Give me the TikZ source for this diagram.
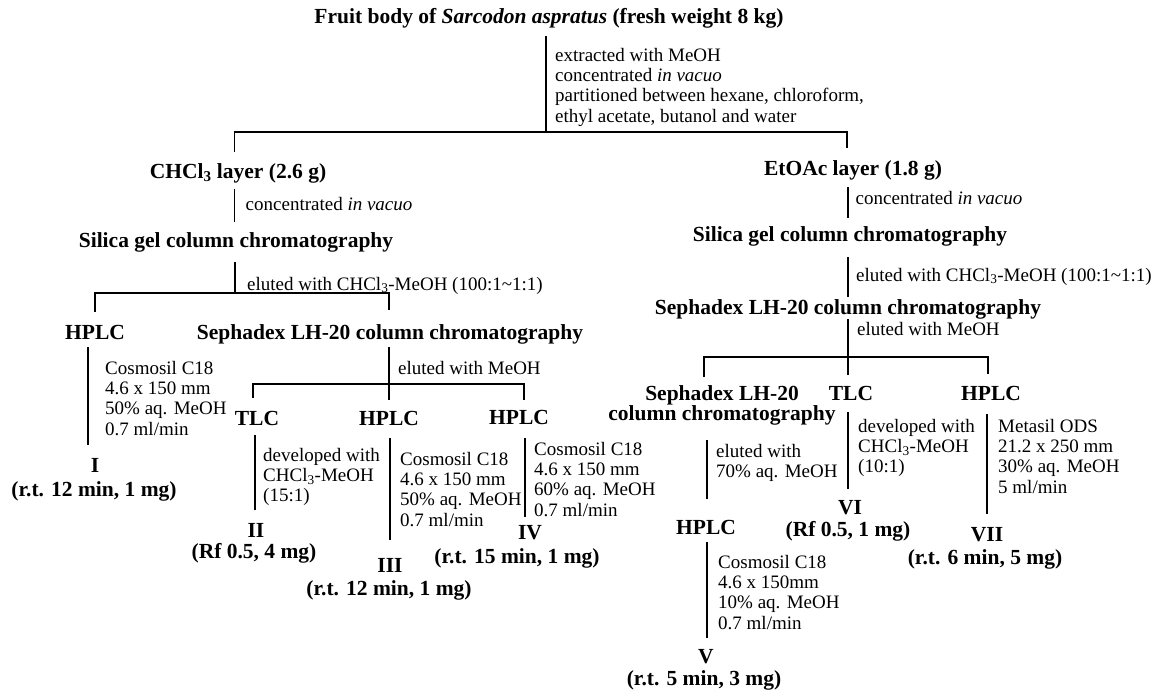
\documentclass[tikz,border=0pt]{standalone}
\usepackage{fontspec}
\setmainfont{Liberation Serif}
\newcommand\mylines[1]{\begin{tabular}[t]{@{}l@{}}#1\end{tabular}}
\newcommand\mycenter[1]{\begin{tabular}[t]{@{}c@{}}#1\end{tabular}}
\begin{document}
\begin{tikzpicture}[x=1pt,y=-1pt,
  hd/.style={font=\fontsize{21.5}{20}\selectfont\bfseries, inner sep=0pt, anchor=base},
  nt/.style={font=\fontsize{19}{20.4}\selectfont, inner sep=0pt, anchor=base west},
  ln/.style={line width=1.7pt}]
\useasboundingbox[fill=white] (0,0) rectangle (1156,697);

% ---------- headings ----------
\node[hd] (title) at (549,23) {Fruit body of \textit{Sarcodon aspratus} (fresh weight 8 kg)};
\node[hd] (chl) at (238,178) {CHCl\textsubscript{3} layer (2.6 g)};
\node[hd] (eto) at (853,175) {EtOAc layer (1.8 g)};
\node[hd] (silL) at (236,247) {Silica gel column chromatography};
\node[hd] (silR) at (850,241) {Silica gel column chromatography};
\node[hd] (hplcA) at (95,339) {HPLC};
\node[hd] (sephL) at (390,339) {Sephadex LH-20 column chromatography};
\node[hd] (tlcA) at (257,425) {TLC};
\node[hd] (hplcB) at (389,425) {HPLC};
\node[hd] (hplcC) at (519,424) {HPLC};
\node[hd] (sephR) at (848,314) {Sephadex LH-20 column chromatography};
\node[hd] (sephS) at (722,400) {\mycenter{Sephadex LH-20\\column chromatography}};
\node[hd] (tlcR) at (851,400) {TLC};
\node[hd] (hplcR) at (991,400) {HPLC};
\node[hd] (hplcD) at (706,534) {HPLC};

% ---------- compounds ----------
\node[hd] (c1) at (95,472) {I};
\node[hd] (c1i) at (94,496) {(r.t. 12 min, 1 mg)};
\node[hd] (c2) at (256,537) {II};
\node[hd] (c2i) at (254,558) {(Rf 0.5, 4 mg)};
\node[hd] (c3) at (390,572) {III};
\node[hd] (c3i) at (389,595) {(r.t. 12 min, 1 mg)};
\node[hd] (c4) at (530,539) {IV};
\node[hd] (c4i) at (517,563) {(r.t. 15 min, 1 mg)};
\node[hd] (c5) at (706,663) {V};
\node[hd] (c5i) at (704,685) {(r.t. 5 min, 3 mg)};
\node[hd] (c6) at (850,514) {VI};
\node[hd] (c6i) at (848,536) {(Rf 0.5, 1 mg)};
\node[hd] (c7) at (987,541) {VII};
\node[hd] (c7i) at (985,564) {(r.t. 6 min, 5 mg)};

% ---------- conditions ----------
\node[nt] (n0) at (555,61) {\mylines{extracted with MeOH\\concentrated \textit{in vacuo}\\partitioned between hexane, chloroform,\\ethyl acetate, butanol and water}};
\node[nt] (n1) at (245.5,210) {concentrated \textit{in vacuo}};
\node[nt] (n2) at (855.5,204) {concentrated \textit{in vacuo}};
\node[nt] (n3) at (247,290) {eluted with CHCl\textsubscript{3}-MeOH (100:1\textasciitilde1:1)};
\node[nt] (n4) at (856,281) {eluted with CHCl\textsubscript{3}-MeOH (100:1\textasciitilde1:1)};
\node[nt] (n5) at (398,374) {eluted with MeOH};
\node[nt] (n6) at (857,335) {eluted with MeOH};
\node[nt] (n7) at (105,374) {\mylines{Cosmosil C18\\4.6 x 150 mm\\50\% aq. MeOH\\0.7 ml/min}};
\node[nt] (n8) at (263,461) {\mylines{developed with\\CHCl\textsubscript{3}-MeOH\\(15:1)}};
\node[nt] (n9) at (400,465) {\mylines{Cosmosil C18\\4.6 x 150 mm\\50\% aq. MeOH\\0.7 ml/min}};
\node[nt] (n10) at (534,455) {\mylines{Cosmosil C18\\4.6 x 150 mm\\60\% aq. MeOH\\0.7 ml/min}};
\node[nt] (n11) at (716,457) {\mylines{eluted with\\70\% aq. MeOH}};
\node[nt] (n12) at (858,432) {\mylines{developed with\\CHCl\textsubscript{3}-MeOH\\(10:1)}};
\node[nt] (n13) at (998,432) {\mylines{Metasil ODS\\21.2 x 250 mm\\30\% aq. MeOH\\5 ml/min}};
\node[nt] (n14) at (718,568) {\mylines{Cosmosil C18\\4.6 x 150mm\\10\% aq. MeOH\\0.7 ml/min}};

% ---------- junction coordinates ----------
\coordinate (t0) at (546,36);   \coordinate (j0) at (546,132);
\coordinate (j0l) at (234.5,132); \coordinate (d0l) at (234.5,152);
\coordinate (j0r) at (847,132);   \coordinate (d0r) at (847,148);
\coordinate (t1) at (234.5,189); \coordinate (e1) at (234.5,222);
\coordinate (t2) at (848,187);   \coordinate (e2) at (848,218);
\coordinate (t3) at (235,262);   \coordinate (j3) at (235,293);
\coordinate (j3l) at (95,293);   \coordinate (d3l) at (95,312);
\coordinate (j3r) at (389,293);  \coordinate (d3r) at (389,310);
\coordinate (t4) at (88,347);    \coordinate (e4) at (88,445);
\coordinate (t5) at (389,347);   \coordinate (j5) at (389,384); \coordinate (d5m) at (389,400);
\coordinate (j5l) at (253,384);  \coordinate (d5l) at (253,398);
\coordinate (j5r) at (524,384);  \coordinate (d5r) at (524,400);
\coordinate (t6) at (255,435);   \coordinate (e6) at (255,510);
\coordinate (t7) at (390,438);   \coordinate (e7) at (390,540);
\coordinate (t8) at (525,438);   \coordinate (e8) at (525,517);
\coordinate (t9) at (848,257);   \coordinate (e9) at (848,297);
\coordinate (t10) at (848,319);  \coordinate (j10) at (848,357); \coordinate (d10m) at (848,375);
\coordinate (j10l) at (704,357); \coordinate (d10l) at (704,377);
\coordinate (j10r) at (988,357); \coordinate (d10r) at (988,374);
\coordinate (t11) at (848,412);  \coordinate (e11) at (848,489);
\coordinate (t12) at (987,414);  \coordinate (e12) at (987,514);
\coordinate (t13) at (707,440);  \coordinate (e13) at (707,499);
\coordinate (t14) at (707,542);  \coordinate (e14) at (707,638);

% ---------- connectors ----------
\draw[ln] (t0) -- (j0);
\draw[ln] (d0l) -- (j0l) -- (j0r) -- (d0r);
\draw[ln] (t1) -- (e1);
\draw[ln] (t2) -- (e2);
\draw[ln] (t3) -- (j3);
\draw[ln] (d3l) -- (j3l) -- (j3r) -- (d3r);
\draw[ln] (t4) -- (e4);
\draw[ln] (t5) -- (d5m);
\draw[ln] (d5l) -- (j5l) -- (j5r) -- (d5r);
\draw[ln] (t6) -- (e6);
\draw[ln] (t7) -- (e7);
\draw[ln] (t8) -- (e8);
\draw[ln] (t9) -- (e9);
\draw[ln] (t10) -- (d10m);
\draw[ln] (d10l) -- (j10l) -- (j10r) -- (d10r);
\draw[ln] (t11) -- (e11);
\draw[ln] (t12) -- (e12);
\draw[ln] (t13) -- (e13);
\draw[ln] (t14) -- (e14);
\end{tikzpicture}
\end{document}
